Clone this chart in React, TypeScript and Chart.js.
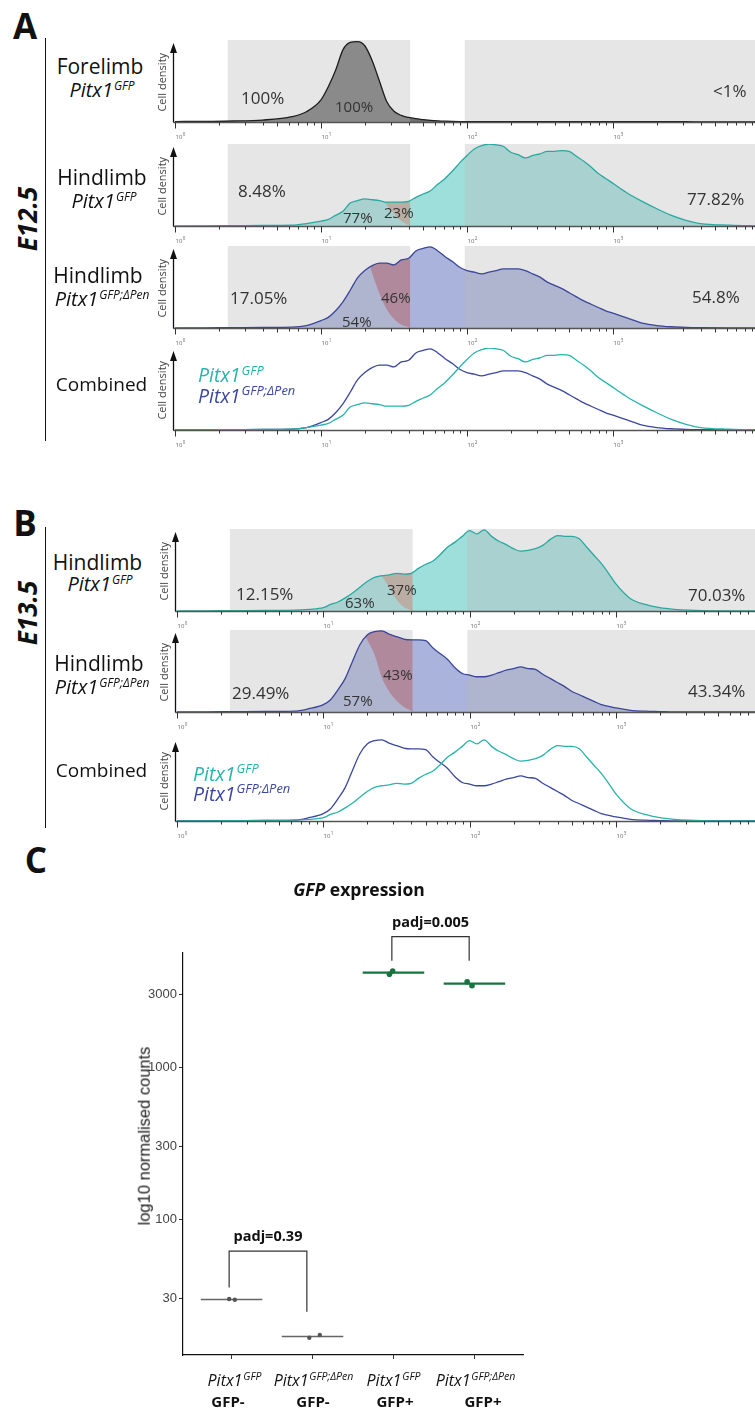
import React, { useEffect, useRef } from 'react';
import { Chart, registerables } from 'chart.js';

Chart.register(...registerables);

const SANS = '"Open Sans", "Noto Sans", "DejaVu Sans", sans-serif';
const ARIAL = '"Liberation Sans", Arial, sans-serif';

// ---------------- Panels A / B : flow cytometry GFP histograms ----------------
// GFP intensity sampling points (log spaced) and normalised cell density (peak = 100)
const INTENSITY = [1, 1.585, 2.512, 3.981, 6.31, 7.943, 10, 11.22, 12.59, 14.13, 15.85, 17.78, 19.95, 22.39, 25.12, 28.18, 31.62, 35.48, 39.81, 44.67, 50.12, 56.23, 63.1, 70.79, 79.43, 89.13, 100, 112.2, 125.9, 141.3, 158.5, 177.8, 199.5, 223.9, 251.2, 281.8, 316.2, 354.8, 398.1, 446.7, 501.2, 562.3, 631, 707.9, 794.3, 891.3, 1000, 1259, 1585, 1995, 2512, 3162, 3981, 6310, 10000];

const DENSITY_FL_E125_GFP = [0.5, 0.8, 1.2, 2.4, 6.5, 12.5,
  27, 43, 63, 88, 97, 98, 93, 75, 50, 25,
  13, 8, 5.5, 4, 3, 2, 1.4, 1, 0.7, 0.5,
  0.4, 0.3, 0.3, 0.3, 0.3, 0.3, 0.3, 0.3, 0.3, 0.3,
  0.3, 0.3, 0.3, 0.3, 0.3, 0.3, 0.3, 0.3, 0.3, 0.3,
  0.3,
  0.3, 0.3, 0.3, 0.3, 0.3, 0.2, 0.2, 0.2];

const DENSITY_HL_E125_GFP = [0, 0.2, 0.4, 0.6, 1, 3,
  6, 8, 13, 18, 28, 31, 33, 32, 31, 29,
  29, 29, 30, 35, 39, 43, 51, 58, 67, 77,
  86, 94, 98, 100, 99, 97, 90, 87, 83, 86,
  88, 91, 91, 92, 91, 85, 79, 72, 64, 58,
  52,
  40, 30, 21, 13, 7, 3, 1, 0];

const DENSITY_HL_E125_DPEN = [0, 0.2, 0.4, 0.6, 1, 3,
  9, 13, 21, 32, 46, 61, 70, 76, 79, 79,
  77, 83, 85, 94, 97, 99, 94, 87, 81, 74,
  70, 68, 66, 68, 70, 72, 72, 72, 70, 66,
  62, 56, 52, 48, 43, 38, 33, 29, 25, 21,
  18,
  12, 6, 3, 1.5, 0.7, 0.3, 0, 0];

const DENSITY_HL_E135_GFP = [0, 0.2, 0.4, 0.6, 1, 2,
  4, 8, 11, 16, 22, 29, 36, 41, 43, 44,
  46, 45, 46, 52, 57, 61, 69, 78, 84, 91,
  98, 94, 99, 91, 85, 81, 76, 73, 74, 76,
  80, 87, 92, 91, 91, 88, 78, 68, 58, 46,
  33,
  15, 8, 4, 2, 1, 0.5, 0, 0];

const DENSITY_HL_E135_DPEN = [0, 0.2, 0.4, 0.6, 1, 4,
  9, 15, 27, 41, 62, 82, 94, 98, 99, 95,
  92, 89, 88, 88, 87, 78, 71, 64, 54, 47,
  45, 43, 43, 45, 48, 51, 53, 55, 53, 52,
  46, 41, 36, 31, 25, 21, 17, 13, 9, 7,
  5,
  2, 1, 0.5, 0, 0, 0, 0, 0];

// lower boundary of the back-gated sub-population inside the GFP- gate
const SUBPOP_E125_GFP_X = [26.98, 28.18, 31.62, 35.48, 39.81, 40.8];
const SUBPOP_E125_GFP_Y = [30, 26, 15, 6, 1, 0];
const SUBPOP_E125_DPEN_X = [21.68, 22.39, 25.12, 28.18, 31.62, 35.48, 39.81, 40.8];
const SUBPOP_E125_DPEN_Y = [75, 67, 42, 23, 11, 4, 1, 0];
const SUBPOP_E135_GFP_X = [25.12, 28.18, 31.62, 35.48, 39.81, 40.8];
const SUBPOP_E135_GFP_Y = [43, 29, 14, 5, 1, 0];
const SUBPOP_E135_DPEN_X = [19.5, 19.95, 22.39, 25.12, 28.18, 31.62, 35.48, 39.81, 40.8];
const SUBPOP_E135_DPEN_Y = [92, 88, 70, 42, 25, 14, 6, 1.5, 0];

const GATE_NEG = [2.3, 40.8];
const GATE_POS = [96.5, 100000];
const AXIS_DECADES = [1, 10, 100, 1000, 10000];
const AXIS_EXPONENTS = ['0', '1', '2', '3', '4'];
const MINOR_STEPS = [2, 3, 4, 5, 6, 7, 8, 9];

const PCT_FL_E125 = ['100%', '100%', '<1%'];
const PCT_HL_E125_GFP = ['8.48%', '77%', '23%', '77.82%'];
const PCT_HL_E125_DPEN = ['17.05%', '54%', '46%', '54.8%'];
const PCT_HL_E135_GFP = ['12.15%', '63%', '37%', '70.03%'];
const PCT_HL_E135_DPEN = ['29.49%', '57%', '43%', '43.34%'];

// ---------------- Panel C : GFP expression ----------------
const C_POSITIONS = [1, 2, 3, 4];
const C_GENOTYPE_SUP = ['GFP', 'GFP;ΔPen', 'GFP', 'GFP;ΔPen'];
const C_FRACTION = ['GFP-', 'GFP-', 'GFP+', 'GFP+'];
const C_REPLICATES = [[29.7, 29.4], [16.5, 17.2], [4100, 4315], [3665, 3450]];
const C_MEDIAN = [29.5, 16.8, 4200, 3555];
const C_JITTER = [[-0.03, 0.04], [-0.04, 0.09], [-0.05, -0.01], [-0.09, -0.03]];
const C_Y_TICKS = [30, 100, 300, 1000, 3000];
const C_TESTS = [
  { from: 0.97, to: 1.93, top: 61.5, leftEnd: 35.4, rightEnd: 24.5, label: 'padj=0.39' },
  { from: 2.98, to: 3.935, top: 7260, leftEnd: 5040, rightEnd: 5040, label: 'padj=0.005' },
];

// ---------------- styles ----------------
const TEAL_LINE = '#2aa9a1';
const TEAL_FILL = '#9fdfdb';
const BLUE_LINE = '#3a4699';
const BLUE_FILL = '#a9b3db';
const GREY_LINE = '#1e1e1e';
const GREY_FILL = '#707070';
const BROWN = '#b9a698';
const MAUVE = '#ab6f8c';
const TEAL_C = '#27b4ab';
const BLUE_C = '#3b479e';
const GATE_TINT = 'rgba(185,185,185,0.36)';
const C_COLORS = ['#555555', '#555555', '#17733f', '#17733f'];
const C_HALF = 0.38;

const H_LEFT = 150;
const H_W = 630;
const H_PLOT = 82;
const H_PAD_T = 10;
const H_PAD_B = 24;

type Series = { values: number[]; line: string; fill?: string };
type Sub = { x: number[]; y: number[]; color: string };
type Row = { top: number; axisX: number; decade: number; gates: boolean; series: Series[]; sub?: Sub };

const ROWS: Row[] = [
  { top: 40, axisX: 175, decade: 146, gates: true, series: [{ values: DENSITY_FL_E125_GFP, line: GREY_LINE, fill: GREY_FILL }] },
  { top: 144, axisX: 175, decade: 146, gates: true, series: [{ values: DENSITY_HL_E125_GFP, line: TEAL_LINE, fill: TEAL_FILL }], sub: { x: SUBPOP_E125_GFP_X, y: SUBPOP_E125_GFP_Y, color: BROWN } },
  { top: 246, axisX: 175, decade: 146, gates: true, series: [{ values: DENSITY_HL_E125_DPEN, line: BLUE_LINE, fill: BLUE_FILL }], sub: { x: SUBPOP_E125_DPEN_X, y: SUBPOP_E125_DPEN_Y, color: MAUVE } },
  { top: 348, axisX: 175, decade: 146, gates: false, series: [{ values: DENSITY_HL_E125_GFP, line: TEAL_C }, { values: DENSITY_HL_E125_DPEN, line: BLUE_C }] },
  { top: 529, axisX: 177, decade: 146.3, gates: true, series: [{ values: DENSITY_HL_E135_GFP, line: TEAL_LINE, fill: TEAL_FILL }], sub: { x: SUBPOP_E135_GFP_X, y: SUBPOP_E135_GFP_Y, color: BROWN } },
  { top: 630, axisX: 177, decade: 146.3, gates: true, series: [{ values: DENSITY_HL_E135_DPEN, line: BLUE_LINE, fill: BLUE_FILL }], sub: { x: SUBPOP_E135_DPEN_X, y: SUBPOP_E135_DPEN_Y, color: MAUVE } },
  { top: 739, axisX: 177, decade: 146.3, gates: false, series: [{ values: DENSITY_HL_E135_GFP, line: TEAL_C }, { values: DENSITY_HL_E135_DPEN, line: BLUE_C }] },
];

function histDecor(gates: boolean) {
  return {
    id: 'histDecor',
    beforeDatasetsDraw(chart: any) {
      if (!gates) return;
      const { ctx, chartArea, scales } = chart;
      const y0 = scales.y.getPixelForValue(0);
      ctx.save();
      ctx.fillStyle = GATE_TINT;
      [GATE_NEG, GATE_POS].forEach((g) => {
        const a = scales.x.getPixelForValue(g[0]);
        const b = Math.min(scales.x.getPixelForValue(g[1]), chart.width);
        ctx.fillRect(a, chartArea.top, b - a, y0 - chartArea.top);
      });
      ctx.restore();
    },
    afterDatasetsDraw(chart: any) {
      const { ctx, chartArea, scales } = chart;
      const xs = scales.x;
      const y0 = Math.round(scales.y.getPixelForValue(0)) + 0.5;
      const ax = chartArea.left - 1.5;
      ctx.save();
      ctx.strokeStyle = '#555';
      ctx.lineWidth = 1.3;
      ctx.beginPath();
      ctx.moveTo(ax, y0);
      ctx.lineTo(chart.width, y0);
      ctx.stroke();
      ctx.strokeStyle = '#333';
      ctx.lineWidth = 1;
      AXIS_DECADES.forEach((d, di) => {
        const px = Math.round(xs.getPixelForValue(d)) + 0.5;
        ctx.beginPath();
        ctx.moveTo(px, y0);
        ctx.lineTo(px, y0 + 6);
        ctx.stroke();
        if (di < AXIS_DECADES.length - 1) {
          MINOR_STEPS.forEach((k) => {
            const mx = Math.round(xs.getPixelForValue(d * k)) + 0.5;
            ctx.beginPath();
            ctx.moveTo(mx, y0);
            ctx.lineTo(mx, y0 + (k === 5 ? 4 : 3));
            ctx.stroke();
          });
        }
        ctx.fillStyle = '#666';
        ctx.textBaseline = 'alphabetic';
        ctx.textAlign = 'left';
        ctx.font = `6px ${SANS}`;
        ctx.fillText('10', px, y0 + 16);
        const w = ctx.measureText('10').width;
        ctx.font = `4.5px ${SANS}`;
        ctx.fillText(AXIS_EXPONENTS[di], px + w + 0.3, y0 + 13);
      });
      const top = chartArea.top;
      ctx.strokeStyle = '#111';
      ctx.lineWidth = 1.3;
      ctx.beginPath();
      ctx.moveTo(ax, y0);
      ctx.lineTo(ax, top + 10);
      ctx.stroke();
      ctx.fillStyle = '#111';
      ctx.beginPath();
      ctx.moveTo(ax, top + 3);
      ctx.lineTo(ax - 3.5, top + 13);
      ctx.lineTo(ax + 3.5, top + 13);
      ctx.closePath();
      ctx.fill();
      ctx.save();
      ctx.translate(ax - 11, (top + y0) / 2 + 1);
      ctx.rotate(-Math.PI / 2);
      ctx.fillStyle = '#444';
      ctx.font = `11px ${SANS}`;
      ctx.textAlign = 'center';
      ctx.textBaseline = 'middle';
      ctx.fillText('Cell density', 0, 0);
      ctx.restore();
      ctx.restore();
    },
  };
}

function Hist({ row }: { row: Row }) {
  const ref = useRef<HTMLCanvasElement>(null);
  useEffect(() => {
    const canvas = ref.current;
    if (!canvas) return;
    const datasets: any[] = [];
    if (row.sub) {
      const sub = row.sub;
      datasets.push({
        data: sub.x.map((x, i) => ({ x, y: sub.y[i] })),
        borderWidth: 0,
        pointRadius: 0,
        fill: '+1',
        backgroundColor: sub.color,
        cubicInterpolationMode: 'monotone',
      });
    }
    row.series.forEach((s) =>
      datasets.push({
        data: INTENSITY.map((x, i) => ({ x, y: s.values[i] })),
        borderColor: s.line,
        borderWidth: 1.3,
        pointRadius: 0,
        fill: s.fill ? 'origin' : false,
        backgroundColor: s.fill || 'rgba(0,0,0,0)',
        cubicInterpolationMode: 'monotone',
      })
    );
    const right = row.axisX + 4 * row.decade;
    const chart = new Chart(canvas, {
      type: 'line',
      data: { datasets },
      options: {
        animation: false,
        responsive: false,
        devicePixelRatio: 1,
        events: [],
        layout: { padding: { left: row.axisX - H_LEFT, right: H_LEFT + H_W - right, top: H_PAD_T, bottom: H_PAD_B } },
        scales: {
          x: { type: 'logarithmic', min: 1, max: 10000, display: false },
          y: { type: 'linear', min: 0, max: 100, display: false },
        },
        plugins: { legend: { display: false }, tooltip: { enabled: false }, filler: { drawTime: 'beforeDraw' } },
      } as any,
      plugins: [histDecor(row.gates)],
    });
    return () => chart.destroy();
  }, []);
  const h = H_PAD_T + H_PLOT + H_PAD_B;
  return (
    <canvas
      ref={ref}
      width={H_W}
      height={h}
      style={{ position: 'absolute', left: H_LEFT, top: row.top - H_PAD_T, width: H_W, height: h }}
    />
  );
}

const bracketPlugin = {
  id: 'brackets',
  afterDraw(chart: any) {
    const { ctx, scales } = chart;
    const x = scales.x;
    const y = scales.y;
    ctx.save();
    ctx.strokeStyle = '#333';
    ctx.lineWidth = 1.2;
    C_TESTS.forEach((t) => {
      const x1 = x.getPixelForValue(t.from);
      const x2 = x.getPixelForValue(t.to);
      const yt = y.getPixelForValue(t.top);
      const yl = y.getPixelForValue(t.leftEnd);
      const yr = y.getPixelForValue(t.rightEnd);
      ctx.beginPath();
      ctx.moveTo(x1, yl);
      ctx.lineTo(x1, yt);
      ctx.lineTo(x2, yt);
      ctx.lineTo(x2, yr);
      ctx.stroke();
      ctx.fillStyle = '#111';
      ctx.font = `bold 14.5px ${SANS}`;
      ctx.textAlign = 'center';
      ctx.textBaseline = 'alphabetic';
      ctx.fillText(t.label, (x1 + x2) / 2, yt - 10);
    });
    ctx.restore();
  },
};

function Expression() {
  const ref = useRef<HTMLCanvasElement>(null);
  useEffect(() => {
    const canvas = ref.current;
    if (!canvas) return;
    const datasets: any[] = [];
    C_REPLICATES.forEach((vals, i) =>
      datasets.push({
        data: vals.map((v, j) => ({ x: C_POSITIONS[i] + C_JITTER[i][j], y: v })),
        pointRadius: i < 2 ? 2.2 : 2.8,
        pointBackgroundColor: C_COLORS[i],
        pointBorderWidth: 0,
        showLine: false,
      })
    );
    C_MEDIAN.forEach((m, i) =>
      datasets.push({
        data: [
          { x: C_POSITIONS[i] - C_HALF, y: m },
          { x: C_POSITIONS[i] + C_HALF, y: m },
        ],
        showLine: true,
        borderColor: i < 2 ? '#666' : C_COLORS[i],
        borderWidth: i < 2 ? 1.6 : 2.2,
        pointRadius: 0,
      })
    );
    const chart = new Chart(canvas, {
      type: 'scatter',
      data: { datasets },
      options: {
        animation: false,
        responsive: false,
        devicePixelRatio: 1,
        events: [],
        layout: { padding: { left: 0, right: 17, top: 53, bottom: 7 } },
        scales: {
          x: {
            type: 'linear',
            min: 0.4,
            max: 4.6,
            afterBuildTicks: (s: any) => {
              s.ticks = C_POSITIONS.map((v) => ({ value: v }));
            },
            afterFit: (s: any) => {
              s.height = 8;
            },
            ticks: { display: false },
            grid: { drawOnChartArea: false, tickLength: 4, color: '#333' },
            border: { display: true, color: '#111', width: 1.2 },
          },
          y: {
            type: 'logarithmic',
            min: 12.7,
            max: 5665,
            afterBuildTicks: (s: any) => {
              s.ticks = C_Y_TICKS.map((v) => ({ value: v }));
            },
            afterFit: (s: any) => {
              s.width = 83;
            },
            ticks: { callback: (v: any) => String(v), font: { family: ARIAL, size: 13 }, color: '#444', padding: 2 },
            grid: { drawOnChartArea: false, tickLength: 4, color: '#333' },
            border: { display: true, color: '#111', width: 1.2 },
          },
        },
        plugins: { legend: { display: false }, tooltip: { enabled: false } },
      } as any,
      plugins: [bracketPlugin],
    });
    return () => chart.destroy();
  }, []);
  return (
    <canvas ref={ref} width={440} height={470} style={{ position: 'absolute', left: 100, top: 900, width: 440, height: 470 }} />
  );
}

type TxtProps = {
  x: number;
  y: number;
  size: number;
  children: any;
  anchor?: 'left' | 'center';
  weight?: number;
  italic?: boolean;
  color?: string;
  rotate?: boolean;
  family?: string;
};

function Txt({ x, y, size, children, anchor = 'left', weight = 400, italic = false, color = '#111', rotate = false, family = SANS }: TxtProps) {
  const transform = rotate ? 'translate(-50%,-50%) rotate(-90deg)' : `translate(${anchor === 'center' ? '-50%' : '0'},-50%)`;
  return (
    <div
      style={{
        position: 'absolute',
        left: x,
        top: y,
        transform,
        fontSize: size,
        fontWeight: weight,
        fontStyle: italic ? 'italic' : 'normal',
        color,
        fontFamily: family,
        lineHeight: 1,
        whiteSpace: 'nowrap',
      }}
    >
      {children}
    </div>
  );
}

function Sup({ children, scale = 0.6 }: { children: any; scale?: number }) {
  return <span style={{ fontSize: `${scale}em`, position: 'relative', top: '-0.55em', marginLeft: '0.08em' }}>{children}</span>;
}

function VLine({ x, y1, y2 }: { x: number; y1: number; y2: number }) {
  return <div style={{ position: 'absolute', left: x, top: y1, width: 1.5, height: y2 - y1, background: '#111' }} />;
}

const PCT_COLOR = '#333';
const C_LABEL_X = [234.5, 313.5, 393.5, 475.5];
const C_FRACTION_X = [228, 313, 395, 483];

export default function App() {
  return (
    <div style={{ position: 'absolute', left: 0, top: 0, width: 755, height: 1409, overflow: 'hidden', background: '#fff' }}>
      {ROWS.map((r, i) => (
        <Hist key={i} row={r} />
      ))}
      <Expression />

      <Txt x={25} y={24.5} size={35} weight={700} anchor="center">A</Txt>
      <Txt x={25} y={521.5} size={35} weight={700} anchor="center">B</Txt>
      <Txt x={36} y={859} size={35} weight={700} anchor="center">C</Txt>
      <VLine x={44.5} y1={38} y2={441} />
      <VLine x={44.5} y1={527} y2={828} />
      <Txt x={27} y={219} size={26} weight={700} italic rotate>E12.5</Txt>
      <Txt x={27} y={612.5} size={26} weight={700} italic rotate>E13.5</Txt>

      <Txt x={100} y={66} size={21} anchor="center">Forelimb</Txt>
      <Txt x={102} y={89.5} size={20} italic anchor="center">Pitx1<Sup>GFP</Sup></Txt>
      <Txt x={102} y={176.5} size={21} anchor="center">Hindlimb</Txt>
      <Txt x={104} y={201} size={20} italic anchor="center">Pitx1<Sup>GFP</Sup></Txt>
      <Txt x={98} y={274.5} size={21} anchor="center">Hindlimb</Txt>
      <Txt x={102} y={298.5} size={20} italic anchor="center">Pitx1<Sup>GFP;ΔPen</Sup></Txt>
      <Txt x={101.5} y={383.5} size={19} anchor="center">Combined</Txt>
      <Txt x={198} y={375} size={19.5} italic color={TEAL_C}>Pitx1<Sup scale={0.66}>GFP</Sup></Txt>
      <Txt x={198} y={395.5} size={19.5} italic color={BLUE_C}>Pitx1<Sup scale={0.66}>GFP;ΔPen</Sup></Txt>

      <Txt x={97.5} y={561.5} size={21} anchor="center">Hindlimb</Txt>
      <Txt x={100} y={584} size={20} italic anchor="center">Pitx1<Sup>GFP</Sup></Txt>
      <Txt x={99} y={662.5} size={21} anchor="center">Hindlimb</Txt>
      <Txt x={102} y={686.5} size={20} italic anchor="center">Pitx1<Sup>GFP;ΔPen</Sup></Txt>
      <Txt x={101.5} y={770} size={19} anchor="center">Combined</Txt>
      <Txt x={193} y={773.5} size={19.5} italic color={TEAL_C}>Pitx1<Sup scale={0.66}>GFP</Sup></Txt>
      <Txt x={193} y={793.5} size={19.5} italic color={BLUE_C}>Pitx1<Sup scale={0.66}>GFP;ΔPen</Sup></Txt>

      <Txt x={241} y={96.5} size={17} color={PCT_COLOR}>{PCT_FL_E125[0]}</Txt>
      <Txt x={335} y={106} size={15} color={PCT_COLOR}>{PCT_FL_E125[1]}</Txt>
      <Txt x={713} y={90} size={17} color={PCT_COLOR}>{PCT_FL_E125[2]}</Txt>

      <Txt x={238} y={190} size={17} color={PCT_COLOR}>{PCT_HL_E125_GFP[0]}</Txt>
      <Txt x={343} y={217} size={15} color={PCT_COLOR}>{PCT_HL_E125_GFP[1]}</Txt>
      <Txt x={384} y={211.5} size={15} color={PCT_COLOR}>{PCT_HL_E125_GFP[2]}</Txt>
      <Txt x={687} y={197.5} size={17} color={PCT_COLOR}>{PCT_HL_E125_GFP[3]}</Txt>

      <Txt x={230} y={296.5} size={17} color={PCT_COLOR}>{PCT_HL_E125_DPEN[0]}</Txt>
      <Txt x={342} y={321} size={15} color={PCT_COLOR}>{PCT_HL_E125_DPEN[1]}</Txt>
      <Txt x={381} y={296.5} size={15} color={PCT_COLOR}>{PCT_HL_E125_DPEN[2]}</Txt>
      <Txt x={692} y={295.5} size={17} color={PCT_COLOR}>{PCT_HL_E125_DPEN[3]}</Txt>

      <Txt x={236} y={592.5} size={17} color={PCT_COLOR}>{PCT_HL_E135_GFP[0]}</Txt>
      <Txt x={345} y={602} size={15} color={PCT_COLOR}>{PCT_HL_E135_GFP[1]}</Txt>
      <Txt x={387} y={588.5} size={15} color={PCT_COLOR}>{PCT_HL_E135_GFP[2]}</Txt>
      <Txt x={688} y={593.5} size={17} color={PCT_COLOR}>{PCT_HL_E135_GFP[3]}</Txt>

      <Txt x={232} y={691.5} size={17} color={PCT_COLOR}>{PCT_HL_E135_DPEN[0]}</Txt>
      <Txt x={343} y={700} size={15} color={PCT_COLOR}>{PCT_HL_E135_DPEN[1]}</Txt>
      <Txt x={383} y={673.5} size={15} color={PCT_COLOR}>{PCT_HL_E135_DPEN[2]}</Txt>
      <Txt x={688} y={689.5} size={17} color={PCT_COLOR}>{PCT_HL_E135_DPEN[3]}</Txt>

      <Txt x={359} y={890} size={17.5} weight={700} anchor="center">
        <i>GFP</i> expression
      </Txt>
      <Txt x={144} y={1136} size={16.5} rotate family={ARIAL} color="#222">log10 normalised counts</Txt>
      {C_GENOTYPE_SUP.map((s, i) => (
        <Txt key={'g' + i} x={C_LABEL_X[i]} y={1380} size={16} italic anchor="center">
          Pitx1<Sup scale={0.66}>{s}</Sup>
        </Txt>
      ))}
      {C_FRACTION.map((f, i) => (
        <Txt key={'f' + i} x={C_FRACTION_X[i]} y={1401} size={15} weight={700} anchor="center">
          {f}
        </Txt>
      ))}
    </div>
  );
}
